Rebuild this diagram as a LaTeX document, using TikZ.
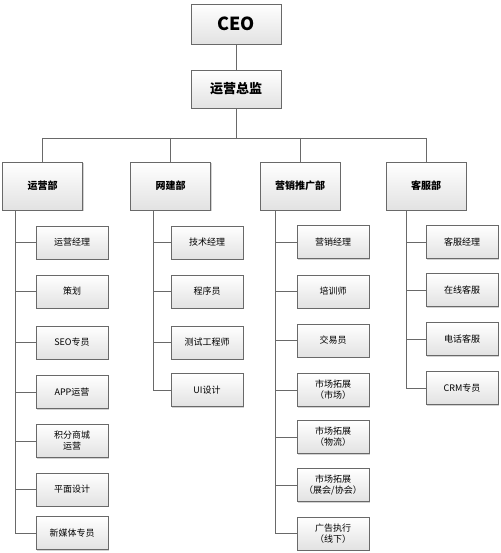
\documentclass[tikz,border=0pt]{standalone}
\usepackage{fontspec}
\setmainfont{Noto Sans CJK SC}
\usepackage{tikz}
\usetikzlibrary{positioning,shadows}
\tikzstyle{orgChart} = [x = 1pt, y = -1pt]
\definecolor{boxLine}{RGB}{105,105,105}
\definecolor{boxShade}{RGB}{226,226,226}
\tikzstyle{boxBase} = [draw=boxLine, top color=white, bottom color=boxShade, inner sep=0pt, align=center,
  drop shadow={shadow xshift=1.2pt, shadow yshift=-1.2pt, opacity=.35}]
\tikzstyle{topBox} = [boxBase, minimum width=90pt, minimum height=40pt, font=\fontsize{18}{20}\selectfont\bfseries]
\tikzstyle{headBox} = [boxBase, minimum width=90pt, minimum height=38pt, font=\fontsize{13}{15}\selectfont\bfseries]
\tikzstyle{deptBox} = [boxBase, minimum width=80pt, minimum height=48pt, font=\fontsize{10}{12}\selectfont\bfseries]
\tikzstyle{staffBox} = [boxBase, minimum width=72pt, minimum height=33pt, font=\fontsize{9}{11}\selectfont]
\tikzstyle{linkLine} = [color=boxLine, line width=.7pt]
\newcommand{\staffNode}[4]{\node [staffBox] (#1) at (#2, #3) {#4};}
\newcommand{\staffLink}[2]{\draw [linkLine] (#1) |- (#2.west);}
\begin{document}
\begin{tikzpicture}[orgChart]
  \useasboundingbox [fill=white] (0,0) rectangle (500,553);
  \node [topBox] (ceo) at (236, 24) {CEO};
  \node [headBox] (zj) at (236, 89) {运营总监};
  \coordinate (bus) at (236, 138);
  \node [deptBox] (yyb) at (42.5, 186) {运营部};
  \node [deptBox] (wjb) at (170.5, 186) {网建部};
  \node [deptBox] (yxb) at (300, 186) {营销推广部};
  \node [deptBox] (kfb) at (426, 186) {客服部};
  \draw [linkLine] (ceo) -- (zj);
  \draw [linkLine] (zj) -- (zj |- bus);
  \draw [linkLine] (yyb.north |- bus) -- (kfb.north |- bus);
  \foreach \dept in {yyb, wjb, yxb, kfb} {
    \draw [linkLine] (\dept.north |- bus) -- (\dept.north);
  }
  % spines
  \coordinate (yybSpine) at ([xshift=13pt]yyb.south west);
  \coordinate (wjbSpine) at ([xshift=23pt]wjb.south west);
  \coordinate (yxbSpine) at ([xshift=16pt]yxb.south west);
  \coordinate (kfbSpine) at ([xshift=21pt]kfb.south west);
  % 运营部
  \staffNode{yy1}{72}{242.5}{运营经理}\staffNode{yy2}{72}{291.5}{策划}\staffNode{yy3}{72}{342.5}{SEO专员}
  \staffNode{yy4}{72}{392}{APP运营}\staffNode{yy5}{72}{441}{积分商城\\运营}\staffNode{yy6}{72}{489.5}{平面设计}
  \staffNode{yy7}{72}{533}{新媒体专员}
  \foreach \s in {yy1,yy2,yy3,yy4,yy5,yy6,yy7} {\staffLink{yybSpine}{\s}}
  % 网建部
  \staffNode{wj1}{207}{242.5}{技术经理}\staffNode{wj2}{207}{291.5}{程序员}\staffNode{wj3}{207}{342.5}{测试工程师}
  \staffNode{wj4}{207}{390}{UI设计}
  \foreach \s in {wj1,wj2,wj3,wj4} {\staffLink{wjbSpine}{\s}}
  % 营销推广部
  \staffNode{yx1}{333}{242}{营销经理}\staffNode{yx2}{333}{291.5}{培训师}\staffNode{yx3}{333}{340.5}{交易员}
  \staffNode{yx4}{333}{390}{市场拓展\\（市场）}\staffNode{yx5}{333}{437}{市场拓展\\（物流）}
  \staffNode{yx6}{333}{485}{市场拓展\\（展会/协会）}\staffNode{yx7}{333}{533.5}{广告执行\\（线下）}
  \foreach \s in {yx1,yx2,yx3,yx4,yx5,yx6,yx7} {\staffLink{yxbSpine}{\s}}
  % 客服部
  \staffNode{kf1}{462}{242}{客服经理}\staffNode{kf2}{462}{290}{在线客服}\staffNode{kf3}{462}{339}{电话客服}
  \staffNode{kf4}{462}{388}{CRM专员}
  \foreach \s in {kf1,kf2,kf3,kf4} {\staffLink{kfbSpine}{\s}}
\end{tikzpicture}
\end{document}
